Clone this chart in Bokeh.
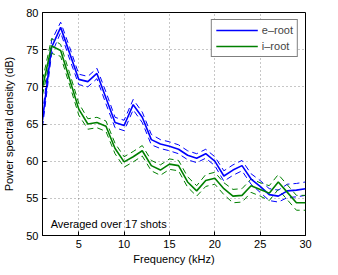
from bokeh.plotting import figure
from bokeh.models import Range1d, FixedTicker, Legend, LegendItem, Label
from bokeh.embed import file_html
from bokeh.resources import INLINE

freq = list(range(1, 31))
e_root = [65.5, 75.3, 78.0, 74.5, 71.0, 70.7, 71.8, 68.5, 65.2, 64.8,
          67.6, 65.9, 62.9, 62.3, 62.0, 61.6, 60.8, 60.4, 61.0, 60.0,
          58.0, 58.8, 59.4, 57.6, 56.6, 55.5, 55.3, 56.0, 56.1, 56.3]
e_err = [0.9, 0.9, 0.7, 0.8, 0.7, 0.7, 0.7, 0.8, 0.7, 0.7,
         0.7, 0.7, 0.7, 0.6, 0.6, 0.6, 0.6, 0.6, 0.6, 0.6,
         0.7, 0.7, 0.7, 0.7, 0.8, 0.8, 0.8, 0.9, 0.9, 0.9]
i_root = [69.9, 75.5, 74.9, 71.0, 67.0, 65.0, 65.2, 64.7, 61.7, 59.9,
          60.6, 61.4, 59.4, 58.8, 59.6, 59.4, 57.2, 56.0, 57.4, 57.7,
          56.3, 55.3, 55.4, 56.7, 56.2, 55.7, 57.2, 55.8, 54.4, 54.4]
i_err = [1.0, 1.0, 0.8, 0.8, 0.8, 0.7, 0.7, 0.7, 0.7, 0.7,
         0.7, 0.7, 0.7, 0.7, 0.7, 0.7, 0.7, 0.7, 0.8, 0.8,
         0.8, 0.9, 0.9, 0.9, 0.9, 1.0, 1.0, 1.0, 1.0, 1.0]
x_ticks = [5, 10, 15, 20, 25, 30]
y_ticks = [50, 55, 60, 65, 70, 75, 80]
series_names = ["e\u2013root", "i\u2013root"]
annotation = "Averaged over 17 shots"

BLUE = "#0000ff"
GREEN = "#008000"
FONT = "Liberation Sans"

p = figure(frame_width=263, frame_height=223, output_backend="svg",
           toolbar_location=None,
           x_range=Range1d(1, 30), y_range=Range1d(50, 80),
           min_border_left=36, min_border_right=20, min_border_top=12,
           min_border_bottom=30)
p.background_fill_color = "white"
p.border_fill_color = "white"
p.outline_line_color = "black"
p.outline_line_width = 1

def style_axis(ax, ticks):
    ax.ticker = FixedTicker(ticks=ticks)
    ax.major_tick_in = 4
    ax.major_tick_out = 0
    ax.minor_tick_line_color = None
    ax.axis_line_color = "black"
    ax.major_tick_line_color = "black"
    ax.major_label_text_font = FONT
    ax.major_label_text_font_size = "11px"
    ax.major_label_text_color = "black"
    ax.axis_label_text_font = FONT
    ax.axis_label_text_font_size = "11px"
    ax.axis_label_text_font_style = "normal"
    ax.axis_label_text_color = "black"

style_axis(p.xaxis[0], x_ticks)
style_axis(p.yaxis[0], y_ticks)
p.xaxis[0].axis_label = "Frequency (kHz)"
p.yaxis[0].axis_label = "Power spectral density (dB)"
p.xaxis[0].major_label_standoff = 4
p.xaxis[0].axis_label_standoff = 2
p.yaxis[0].major_label_standoff = 4
p.yaxis[0].axis_label_standoff = 8

for g in (p.xgrid[0], p.ygrid[0]):
    g.grid_line_color = "#444444"
    g.grid_line_dash = "1 3"
    g.grid_line_alpha = 0.6
p.xgrid[0].ticker = FixedTicker(ticks=x_ticks)
p.ygrid[0].ticker = FixedTicker(ticks=y_ticks)

e_up = [m + e for m, e in zip(e_root, e_err)]
e_lo = [m - e for m, e in zip(e_root, e_err)]
i_up = [m + e for m, e in zip(i_root, i_err)]
i_lo = [m - e for m, e in zip(i_root, i_err)]

for ys in (e_up, e_lo):
    p.line(freq, ys, line_color=BLUE, line_width=1, line_dash="6 4")
for ys in (i_up, i_lo):
    p.line(freq, ys, line_color=GREEN, line_width=1, line_dash="6 4")
r_e = p.line(freq, e_root, line_color=BLUE, line_width=1.6)
r_i = p.line(freq, i_root, line_color=GREEN, line_width=1.6)

legend = Legend(items=[LegendItem(label=series_names[0], renderers=[r_e]),
                       LegendItem(label=series_names[1], renderers=[r_i])],
                location="top_right")
legend.border_line_color = "black"
legend.border_line_width = 1
legend.label_text_font = FONT
legend.label_text_font_size = "11px"
legend.glyph_width = 42
legend.glyph_height = 12
legend.label_height = 12
legend.spacing = 4
legend.padding = 4
legend.margin = 7
legend.label_standoff = 4
p.add_layout(legend)

p.add_layout(Label(x=1.9, y=51.6, text=annotation, text_font=FONT,
                   text_font_size="11px", text_baseline="middle",
                   text_color="black"))

open("out.html", "w").write(file_html(p, INLINE))
